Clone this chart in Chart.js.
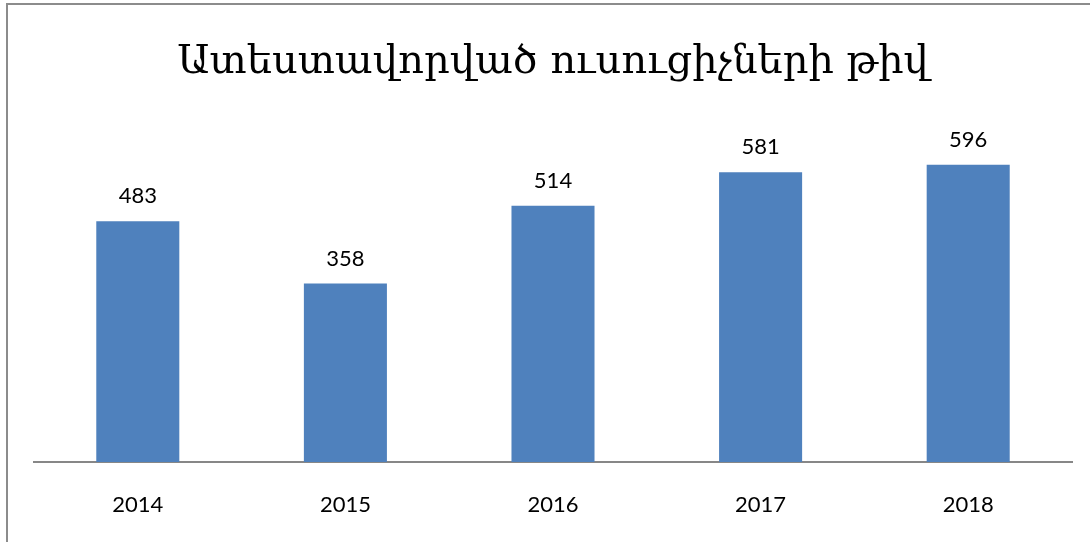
<!DOCTYPE html>
<html>
<head>
<meta charset="utf-8">
<script src="https://cdn.jsdelivr.net/npm/chart.js@4/dist/chart.umd.min.js"></script>
<style>
html,body{margin:0;padding:0;background:#fff;}
#wrap{width:1090px;height:542px;position:relative;}
</style>
</head>
<body>
<div id="wrap"><canvas id="c" width="1090" height="542"></canvas></div>
<script>
const titleText = "Ատեստավորված ուսուցիչների թիվ";
const categories = ["2014", "2015", "2016", "2017", "2018"];
const values = [483, 358, 514, 581, 596];

const frame = {
  id: 'frame',
  beforeDraw(chart) {
    const ctx = chart.ctx;
    ctx.save();
    ctx.fillStyle = '#fff';
    ctx.fillRect(0, 0, chart.width, chart.height);
    ctx.strokeStyle = '#8c8c8c';
    ctx.lineWidth = 2;
    ctx.strokeRect(7, 4, chart.width + 20, chart.height + 20);
    ctx.restore();
  }
};

const valueLabels = {
  id: 'valueLabels',
  afterDatasetsDraw(chart) {
    const ctx = chart.ctx;
    const meta = chart.getDatasetMeta(0);
    ctx.save();
    ctx.font = '22px Lato, "Open Sans", sans-serif';
    ctx.fillStyle = '#000';
    ctx.textAlign = 'center';
    ctx.textBaseline = 'middle';
    meta.data.forEach((bar, i) => {
      ctx.fillText(String(values[i]), bar.x, bar.y - 25);
    });
    ctx.restore();
  }
};

new Chart(document.getElementById('c'), {
  type: 'bar',
  data: {
    labels: categories,
    datasets: [{
      data: values,
      backgroundColor: '#4F81BD',
      borderWidth: 0,
      barPercentage: 0.4,
      categoryPercentage: 1.0
    }]
  },
  options: {
    responsive: false,
    animation: false,
    devicePixelRatio: 1,
    layout: { padding: { left: 34, right: 18, top: 0, bottom: 0 } },
    plugins: {
      legend: { display: false },
      tooltip: { enabled: false },
      title: {
        display: true,
        text: titleText,
        color: '#000',
        font: { family: '"DejaVu Serif", serif', size: 40, weight: 'normal', lineHeight: 1.2 },
        padding: { top: 39, bottom: 26 }
      }
    },
    scales: {
      x: {
        grid: { display: false, drawTicks: false },
        border: { display: true, color: '#878787', width: 2 },
        ticks: { color: '#000', font: { family: 'Lato, "Open Sans", sans-serif', size: 22 }, padding: 30 },
        afterFit(scale) { scale.height = 80; }
      },
      y: {
        display: false,
        min: 0,
        max: 700
      }
    }
  },
  plugins: [frame, valueLabels]
});
</script>
</body>
</html>
